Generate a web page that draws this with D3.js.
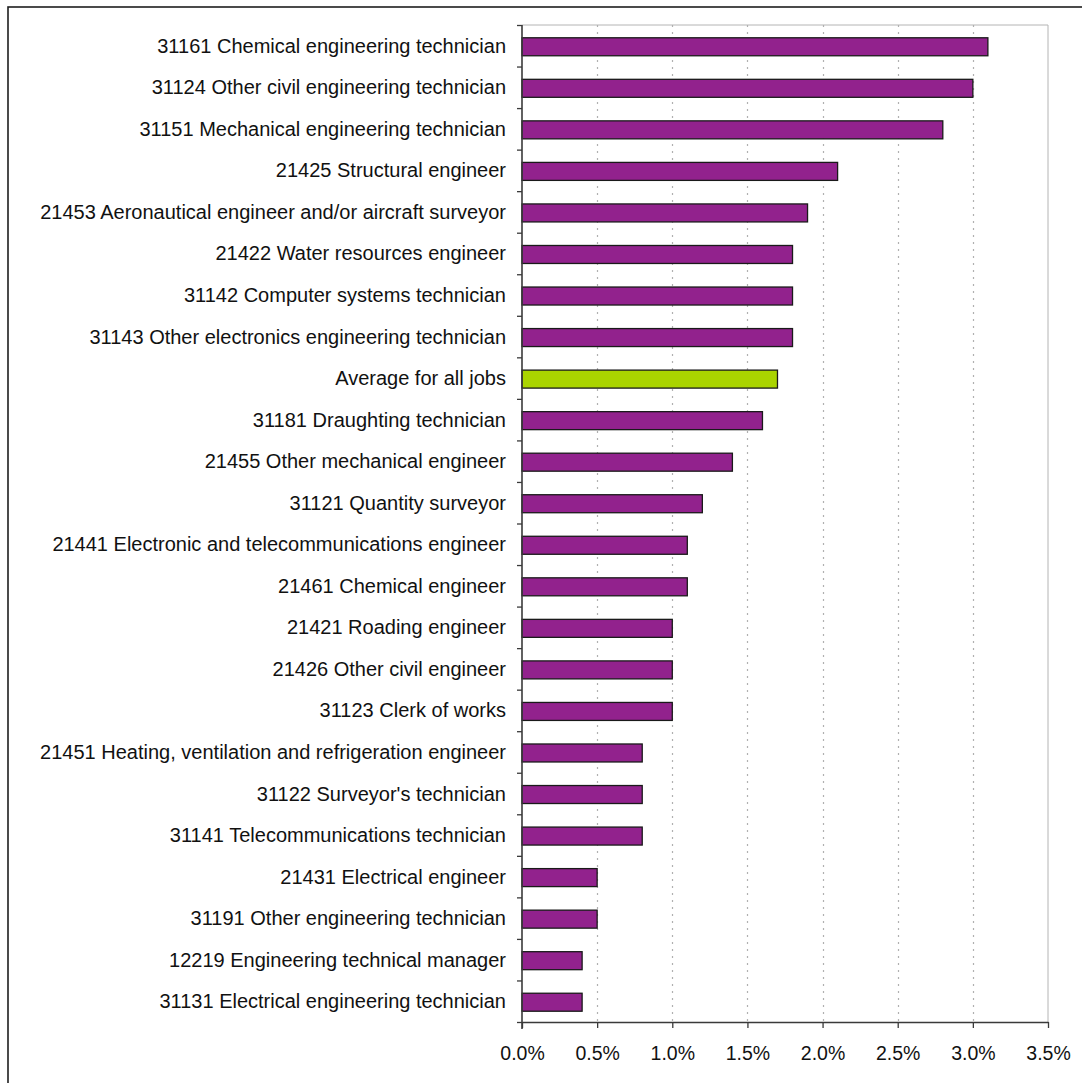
<!DOCTYPE html>
<html>
<head>
<meta charset="utf-8">
<script src="https://cdn.jsdelivr.net/npm/d3@7"></script>
<style>
  html, body { margin: 0; padding: 0; background: #fff; }
  svg { display: block; font-family: "Liberation Sans", Arial, sans-serif; }
</style>
</head>
<body>
<svg id="chart" width="1082" height="1083"></svg>
<script>
// Occupations, top to bottom
const categories = [
  "31161 Chemical engineering technician",
  "31124 Other civil engineering technician",
  "31151 Mechanical engineering technician",
  "21425 Structural engineer",
  "21453 Aeronautical engineer and/or aircraft surveyor",
  "21422 Water resources engineer",
  "31142 Computer systems technician",
  "31143 Other electronics engineering technician",
  "Average for all jobs",
  "31181 Draughting technician",
  "21455 Other mechanical engineer",
  "31121 Quantity surveyor",
  "21441 Electronic and telecommunications engineer",
  "21461 Chemical engineer",
  "21421 Roading engineer",
  "21426 Other civil engineer",
  "31123 Clerk of works",
  "21451 Heating, ventilation and refrigeration engineer",
  "31122 Surveyor's technician",
  "31141 Telecommunications technician",
  "21431 Electrical engineer",
  "31191 Other engineering technician",
  "12219 Engineering technical manager",
  "31131 Electrical engineering technician"
];

// Share for each occupation (fraction)
const values = [
  0.031, 0.030, 0.028, 0.021, 0.019, 0.018, 0.018, 0.018,
  0.017, 0.016, 0.014, 0.012, 0.011, 0.011, 0.010, 0.010,
  0.010, 0.008, 0.008, 0.008, 0.005, 0.005, 0.004, 0.004
];

const averageLabel = "Average for all jobs";

const xTicks = [0, 0.005, 0.010, 0.015, 0.020, 0.025, 0.030, 0.035];

const data = categories.map((c, i) => ({ name: c, value: values[i] }));

const svg = d3.select("#chart");
const plotLeft = 522, plotRight = 1048, plotTop = 25, plotBottom = 1022;

const x = d3.scaleLinear().domain([0, 0.035]).range([plotLeft, plotRight]);
const y = d3.scaleBand()
  .domain(categories)
  .range([plotTop, plotBottom])
  .paddingInner(0.567)
  .paddingOuter(0.2835);
const yIdx = d3.scaleLinear().domain([0, categories.length]).range([plotTop, plotBottom]);

// Outer frame
svg.append("rect")
  .attr("x", 8).attr("y", 7)
  .attr("width", 1100).attr("height", 1100)
  .attr("fill", "none")
  .attr("stroke", "#1e1e1e")
  .attr("stroke-width", 1.6);

// Plot area border (top and right)
svg.append("path")
  .attr("d", `M${plotLeft},${plotTop}H${plotRight}V${plotBottom}`)
  .attr("fill", "none")
  .attr("stroke", "#b4b4b4")
  .attr("stroke-width", 1);

// Dotted vertical gridlines
svg.append("g")
  .selectAll("line")
  .data(xTicks.slice(1, -1))
  .join("line")
  .attr("x1", d => Math.round(x(d)) + 0.5)
  .attr("x2", d => Math.round(x(d)) + 0.5)
  .attr("y1", plotTop)
  .attr("y2", plotBottom)
  .attr("stroke", "#b0b0b0")
  .attr("stroke-width", 1.2)
  .attr("stroke-dasharray", "2,5");

// Bars
svg.append("g")
  .selectAll("rect")
  .data(data)
  .join("rect")
  .attr("x", x(0))
  .attr("y", d => y(d.name) + 1)
  .attr("width", d => x(d.value) - x(0))
  .attr("height", y.bandwidth())
  .attr("fill", d => d.name === averageLabel ? "#aad400" : "#92228d")
  .attr("stroke", "#1a1a1a")
  .attr("stroke-width", 1.3);

// X axis
const xAxis = svg.append("g")
  .attr("transform", `translate(0,${plotBottom})`)
  .call(d3.axisBottom(x)
    .tickValues(xTicks)
    .tickFormat(d3.format(".1%"))
    .tickSizeInner(6)
    .tickSizeOuter(0)
    .tickPadding(18));
xAxis.select(".domain").attr("stroke", "#3a3a3a").attr("stroke-width", 1.6);
xAxis.selectAll(".tick line").attr("stroke", "#3a3a3a").attr("stroke-width", 1.3);
xAxis.selectAll(".tick text")
  .attr("fill", "#111")
  .style("font-size", "19.5px");

// Y axis: tick marks at category boundaries
const yAxis = svg.append("g")
  .attr("transform", `translate(${plotLeft},0)`)
  .call(d3.axisLeft(yIdx)
    .tickValues(d3.range(categories.length + 1))
    .tickFormat("")
    .tickSizeInner(5)
    .tickSizeOuter(0));
yAxis.select(".domain").attr("stroke", "#3a3a3a").attr("stroke-width", 1.6)
  .attr("d", `M0,${plotTop}V${plotBottom + 7}`);
yAxis.selectAll(".tick line").attr("stroke", "#3a3a3a").attr("stroke-width", 1.3);

// Category labels
svg.append("g")
  .selectAll("text")
  .data(categories)
  .join("text")
  .attr("x", plotLeft - 16)
  .attr("y", d => y(d) + y.bandwidth() / 2)
  .attr("dy", "0.35em")
  .attr("text-anchor", "end")
  .attr("fill", "#111")
  .style("font-size", "20px")
  .text(d => d);
</script>
</body>
</html>
